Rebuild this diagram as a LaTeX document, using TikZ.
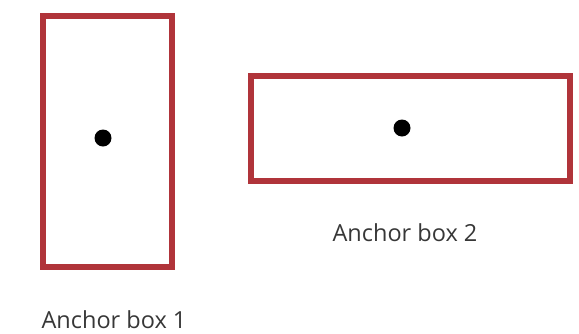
\documentclass[tikz,border=0pt]{standalone}
\usepackage{fontspec}
\setmainfont{Open Sans}
\definecolor{boxred}{RGB}{176,52,58}
\definecolor{labelgray}{RGB}{55,55,55}
\begin{document}
\begin{tikzpicture}[x=1pt,y=-1pt,
  anchorbox/.style={draw=boxred,line width=6pt,fill=none},
  centerdot/.style={circle,fill=black,inner sep=0pt,minimum size=17pt},
  boxlabel/.style={text=labelgray,font=\fontsize{23.5}{28}\selectfont,inner sep=0pt,anchor=base}]
\useasboundingbox (0,0) rectangle (579,333);
\draw[anchorbox] (43,16) rectangle (172,267);
\draw[anchorbox] (251,76) rectangle (570,181);
\node[centerdot] (d1) at (103,138) {};
\node[centerdot] (d2) at (402,128) {};
\node[boxlabel] (l2) at (405,241) {Anchor box 2};
\node[boxlabel] (l1) at (114,328) {Anchor box 1};
\end{tikzpicture}
\end{document}
